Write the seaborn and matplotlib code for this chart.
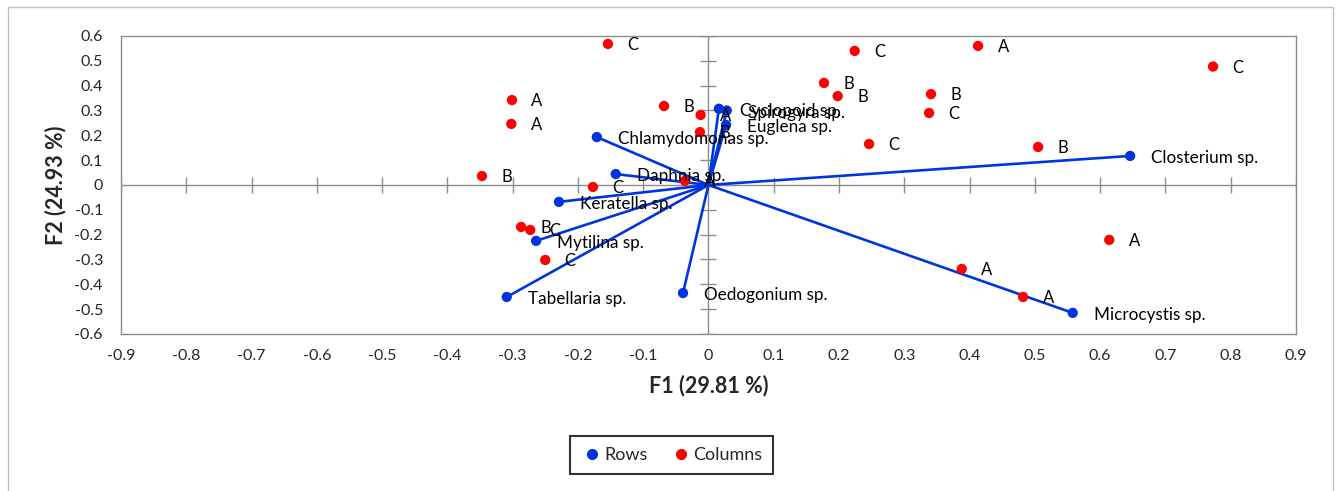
import numpy as np
import pandas as pd
import seaborn as sns
import matplotlib.pyplot as plt
from matplotlib.lines import Line2D
from matplotlib.patches import Rectangle

# Rows (species) - biplot vectors
row_names = ["Cyclopoid sp.", "Spirogyra sp.", "Euglena sp.", "Chlamydomonas sp.",
             "Daphnia sp.", "Keratella sp.", "Mytilina sp.", "Tabellaria sp.",
             "Oedogonium sp.", "Closterium sp.", "Microcystis sp."]
row_f1 = [0.016, 0.028, 0.027, -0.171, -0.142, -0.229, -0.264, -0.309, -0.039, 0.646, 0.558]
row_f2 = [0.307, 0.300, 0.242, 0.193, 0.044, -0.068, -0.225, -0.451, -0.435, 0.117, -0.515]

# Columns (sites)
col_names = ["C", "A", "A", "B", "C", "B", "A", "B", "A", "B", "B", "C",
             "A", "C", "B", "C", "C", "B", "A", "A", "A", "B", "C", "C"]
col_f1 = [-0.154, -0.301, -0.302, -0.347, -0.177, -0.068, -0.012, -0.013, -0.036, 0.177,
          0.198, 0.224, 0.413, 0.773, 0.341, 0.338, 0.246, 0.505, 0.614, 0.388,
          0.482, -0.287, -0.273, -0.250]
col_f2 = [0.568, 0.342, 0.246, 0.036, -0.008, 0.318, 0.282, 0.213, 0.017, 0.411,
          0.358, 0.540, 0.560, 0.477, 0.366, 0.290, 0.165, 0.153, -0.221, -0.338,
          -0.451, -0.169, -0.181, -0.302]

x_ticks = np.round(np.arange(-0.9, 0.91, 0.1), 1) + 0.0
y_ticks = np.round(np.arange(-0.6, 0.61, 0.1), 1) + 0.0

rows = pd.DataFrame({"F1": row_f1, "F2": row_f2, "name": row_names})
cols = pd.DataFrame({"F1": col_f1, "F2": col_f2, "name": col_names})

blue = "#0035DD"
red = "#FF0000"
grey = "#8C8C8C"

sns.set_theme(style="white")
plt.rcParams["font.family"] = ["Lato", "DejaVu Sans"]

fig = plt.figure(figsize=(13.41, 4.91), dpi=100)
ax = fig.add_axes([0.0902, 0.3198, 0.8762, 0.6069])

# axis lines through origin with crossing ticks
ax.axhline(0, color=grey, lw=1, zorder=1)
ax.axvline(0, color=grey, lw=1, zorder=1)
ax.plot(x_ticks, np.zeros_like(x_ticks), ls="none", marker="|", ms=11, mew=1, color=grey, zorder=1)
ax.plot(np.zeros_like(y_ticks), y_ticks, ls="none", marker="_", ms=11, mew=1, color=grey, zorder=1)

# vectors
for x, y in zip(row_f1, row_f2):
    ax.plot([0, x], [0, y], color=blue, lw=1.9, zorder=2)

sns.scatterplot(data=cols, x="F1", y="F2", color=red, s=55, edgecolor="none", ax=ax, zorder=3)
sns.scatterplot(data=rows, x="F1", y="F2", color=blue, s=55, edgecolor="none", ax=ax, zorder=3)

for _, r in cols.iterrows():
    ax.annotate(r["name"], (r["F1"], r["F2"]), xytext=(14, -1), textcoords="offset points",
                ha="left", va="center", fontsize=12, color="black")
for _, r in rows.iterrows():
    ax.annotate(r["name"], (r["F1"], r["F2"]), xytext=(15, -1.5), textcoords="offset points",
                ha="left", va="center", fontsize=12.3, color="black")

ax.set_xlim(-0.9, 0.9)
ax.set_ylim(-0.6, 0.6)
ax.set_xticks(x_ticks)
ax.set_yticks(y_ticks)
ax.set_xticklabels([f"{v:g}" for v in x_ticks], fontsize=11.5)
ax.set_yticklabels([f"{v:g}" for v in y_ticks], fontsize=11.5)
ax.tick_params(axis="y", length=0, pad=13)
ax.tick_params(axis="x", length=0, pad=11)
for s in ax.spines.values():
    s.set_color(grey)
    s.set_linewidth(1)
ax.set_xlabel("F1 (29.81 %)", fontsize=15.5, fontweight="bold", labelpad=8)
ax.set_ylabel("F2 (24.93 %)", fontsize=15.5, fontweight="bold", labelpad=6)

handles = [Line2D([], [], ls="none", marker="o", ms=7, color=blue, label="Rows"),
           Line2D([], [], ls="none", marker="o", ms=7, color=red, label="Columns")]
leg = fig.legend(handles=handles, loc="center", bbox_to_anchor=(0.501, 0.073), ncol=2,
                 fontsize=13, frameon=True, fancybox=False, handletextpad=0.1,
                 columnspacing=1.2, borderpad=0.6, handlelength=1.2)
leg.get_frame().set_edgecolor("black")
leg.get_frame().set_linewidth(1.5)

fig.patches.append(Rectangle((0.006, -0.1), 0.988, 1.086, transform=fig.transFigure,
                             fill=False, edgecolor="#BFBFBF", lw=1))

fig.savefig("out.png", dpi=100)
